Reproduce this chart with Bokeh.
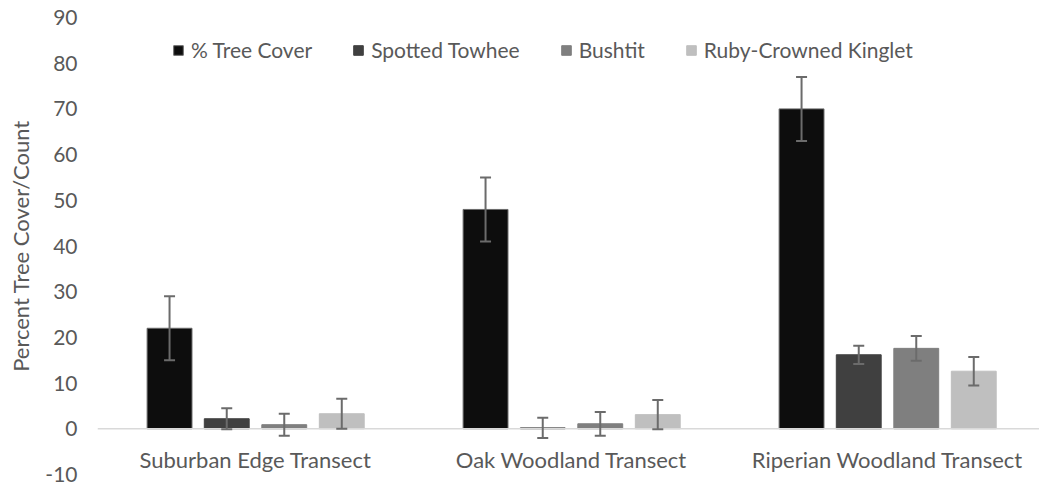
from bokeh.plotting import figure
from bokeh.models import (ColumnDataSource, Range1d, FixedTicker, Whisker, TeeHead,
                          Span, Legend, LegendItem)
from bokeh.core.properties import value
from bokeh.embed import file_html
from bokeh.resources import INLINE

categories = ["Suburban Edge Transect", "Oak Woodland Transect", "Riperian Woodland Transect"]
series = ["% Tree Cover", "Spotted Towhee", "Bushtit", "Ruby-Crowned Kinglet"]
tree_cover = [22.0, 48.0, 70.0]
tree_cover_err = [7.0, 7.0, 7.0]
spotted_towhee = [2.2, 0.2, 16.2]
spotted_towhee_err = [2.3, 2.2, 2.0]
bushtit = [0.9, 1.1, 17.6]
bushtit_err = [2.4, 2.6, 2.7]
kinglet = [3.3, 3.1, 12.6]
kinglet_err = [3.3, 3.2, 3.1]
y_ticks = [-10, 0, 10, 20, 30, 40, 50, 60, 70, 80, 90]
y_tick_labels = ["-10", "0", "10", "20", "30", "40", "50", "60", "70", "80", "90"]

values = [tree_cover, spotted_towhee, bushtit, kinglet]
errors = [tree_cover_err, spotted_towhee_err, bushtit_err, kinglet_err]
colors = ["#0d0d0d", "#404040", "#7f7f7f", "#bfbfbf"]
outlines = ["#6a6a6a", "#404040", "#7f7f7f", "#bfbfbf"]
offsets = [-0.272, -0.091, 0.091, 0.273]
bar_w = 0.142

FONT = "Lato"
TXT = "#595959"
ERR = "#6b6b6b"

p = figure(width=1039, height=486, output_backend="svg", toolbar_location=None,
           x_range=Range1d(-0.5, 2.481), y_range=Range1d(-10, 90),
           min_border_left=97, min_border_right=0, min_border_top=17, min_border_bottom=12)
p.outline_line_color = None
p.xgrid.visible = False
p.ygrid.visible = False
p.xaxis.visible = False

ya = p.yaxis[0]
ya.ticker = FixedTicker(ticks=y_ticks)
ya.major_label_overrides = {t: s for t, s in zip(y_ticks, y_tick_labels)}
ya.axis_line_color = None
ya.major_tick_line_color = None
ya.minor_tick_line_color = None
ya.major_tick_out = 0
ya.major_tick_in = 0
ya.major_label_standoff = 20
ya.major_label_text_color = TXT
ya.major_label_text_font = FONT
ya.major_label_text_font_size = "21px"
ya.axis_label = "Percent Tree Cover/Count"
ya.axis_label_text_font = FONT
ya.axis_label_text_font_size = "22px"
ya.axis_label_text_font_style = "normal"
ya.axis_label_text_color = TXT
ya.axis_label_standoff = 8

p.add_layout(Span(location=0, dimension="width", line_color="#d9d9d9", line_width=1.5))

items = []
for i, name in enumerate(series):
    xs = [j + offsets[i] for j in range(len(categories))]
    vals = values[i]
    errs = errors[i]
    src = ColumnDataSource(dict(x=xs, top=vals,
                                upper=[v + e for v, e in zip(vals, errs)],
                                lower=[v - e for v, e in zip(vals, errs)]))
    r = p.vbar(x="x", top="top", bottom=0, width=bar_w, source=src,
               fill_color=colors[i], line_color=outlines[i], line_width=1)
    w = Whisker(base="x", upper="upper", lower="lower", source=src, level="overlay",
                line_color=ERR, line_width=2,
                upper_head=TeeHead(size=11, line_color=ERR, line_width=2),
                lower_head=TeeHead(size=11, line_color=ERR, line_width=2))
    p.add_layout(w)
    items.append(LegendItem(label=name, renderers=[r]))

cat_src = ColumnDataSource(dict(x=list(range(len(categories))), y=[0] * len(categories),
                                t=categories))
p.text(x="x", y="y", text="t", source=cat_src, y_offset=31,
       text_align="center", text_baseline="middle",
       text_font=value(FONT), text_font_size="22px", text_color=TXT)

legend = Legend(items=items, orientation="horizontal", location=(75, 412),
                glyph_width=12, glyph_height=12, label_standoff=7, spacing=40,
                padding=0, margin=0, border_line_alpha=0, background_fill_alpha=0,
                label_text_font=FONT, label_text_font_size="21px", label_text_color=TXT)
p.add_layout(legend)

open("out.html", "w").write(file_html(p, INLINE))
